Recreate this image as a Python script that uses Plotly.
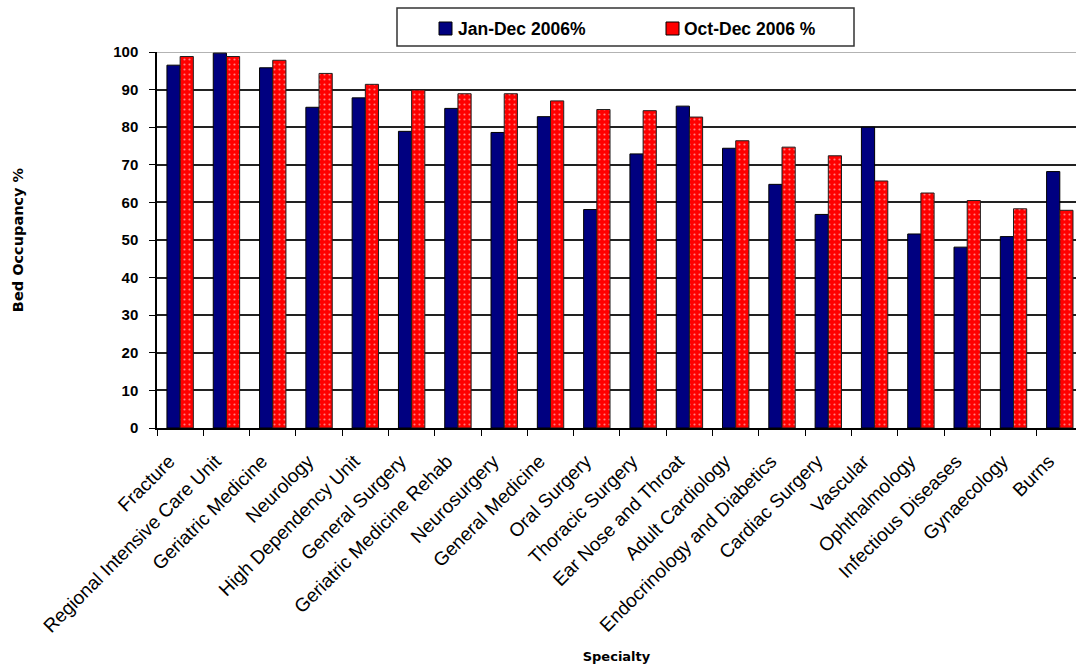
import plotly.graph_objects as go

specialties = [
    "Fracture", "Regional Intensive Care Unit", "Geriatric Medicine", "Neurology",
    "High Dependency Unit", "General Surgery", "Geriatric Medicine Rehab",
    "Neurosurgery", "General Medicine", "Oral Surgery", "Thoracic Surgery",
    "Ear Nose and Throat", "Adult Cardiology", "Endocrinology and Diabetics",
    "Cardiac Surgery", "Vascular", "Ophthalmology", "Infectious Diseases",
    "Gynaecology", "Burns",
]
jan_dec_2006 = [96.5, 99.7, 95.8, 85.3, 87.8, 78.9, 85.0, 78.6, 82.8, 58.1,
                72.9, 85.6, 74.4, 64.8, 56.8, 80.0, 51.6, 48.1, 50.9, 68.2]
oct_dec_2006 = [98.8, 98.8, 97.8, 94.3, 91.4, 89.9, 88.9, 88.9, 87.0, 84.7,
                84.4, 82.7, 76.4, 74.7, 72.4, 65.7, 62.5, 60.5, 58.3, 57.9]
y_ticks = list(range(0, 101, 10))
series_names = ["Jan-Dec 2006%", "Oct-Dec 2006 %"]
series_colors = ["#000080", "#ff0000"]

FONT = "Liberation Sans, Arial, sans-serif"
TITLE_FONT = "DejaVu Sans, sans-serif"

W, H = 1076, 664
M_L, M_R, M_T, M_B = 157, 0, 52, 236
PW, PH = W - M_L - M_R, H - M_T - M_B


def px_x(px):
    return (px - M_L) / PW


def px_y(py):
    return (H - M_B - py) / PH


fig = go.Figure()
fig.add_trace(go.Bar(
    name=series_names[0], x=specialties, y=jan_dec_2006,
    marker=dict(color=series_colors[0], line=dict(color="#000000", width=1)),
))
fig.add_trace(go.Bar(
    name=series_names[1], x=specialties, y=oct_dec_2006,
    marker=dict(
        color=series_colors[1],
        line=dict(color="#202020", width=1),
        pattern=dict(shape=".", fgcolor="#ffffff", bgcolor=series_colors[1],
                     size=5, solidity=0.15, fillmode="overlay"),
    ),
))

# Boxed legend drawn above the plot area
shapes = [
    dict(type="rect", xref="paper", yref="paper",
         x0=px_x(397), x1=px_x(854), y0=px_y(46), y1=px_y(8),
         line=dict(color="#333333", width=1.5), fillcolor="white", layer="above"),
    dict(type="line", xref="paper", yref="y", x0=0, x1=1, y0=100, y1=100,
         line=dict(color="#9a9a9a", width=1.5), layer="below"),
]
annotations = []
for (sq_x, txt_x), name, col in zip([(439, 456), (666, 682)], series_names, series_colors):
    shapes.append(dict(type="rect", xref="paper", yref="paper",
                       x0=px_x(sq_x), x1=px_x(sq_x + 13), y0=px_y(35), y1=px_y(22),
                       line=dict(color="#000000", width=1), fillcolor=col, layer="above"))
    annotations.append(dict(text=name, xref="paper", yref="paper",
                            x=px_x(txt_x), y=px_y(28.5), xanchor="left", yanchor="middle",
                            showarrow=False,
                            font=dict(family=FONT, size=17.5, color="#000000", weight="bold")))

fig.update_layout(
    width=W, height=H,
    margin=dict(l=M_L, r=M_R, t=M_T, b=M_B, autoexpand=False),
    paper_bgcolor="white", plot_bgcolor="white",
    barmode="group", bargap=0.43, bargroupgap=0,
    font=dict(family=FONT, color="#000000"),
    showlegend=False,
    shapes=shapes,
    annotations=annotations,
    xaxis=dict(
        type="category",
        range=[-0.5, 19.35],
        tickangle=-45,
        tickfont=dict(family=FONT, size=19, color="#000000"),
        ticks="outside", tickson="boundaries", ticklen=6, tickwidth=1,
        tickcolor="#000000",
        ticklabelstandoff=13, ticklabelshift=-11,
        showline=True, linecolor="#000000", linewidth=1.5,
        showgrid=False,
        title=dict(text="Specialty", standoff=16,
                   font=dict(family=TITLE_FONT, size=13, weight="bold")),
    ),
    yaxis=dict(
        range=[0, 100],
        tickvals=y_ticks,
        tickfont=dict(family=FONT, size=15, color="#000000", weight="bold"),
        ticks="outside", ticklen=6, tickwidth=1, tickcolor="#000000",
        ticklabelstandoff=8,
        showline=True, linecolor="#000000", linewidth=1.5,
        showgrid=True, gridcolor="#222222", gridwidth=1.5,
        zeroline=False,
        title=dict(text="Bed Occupancy %", standoff=86,
                   font=dict(family=TITLE_FONT, size=14.5, weight="bold")),
    ),
)

fig.write_html("out.html")
